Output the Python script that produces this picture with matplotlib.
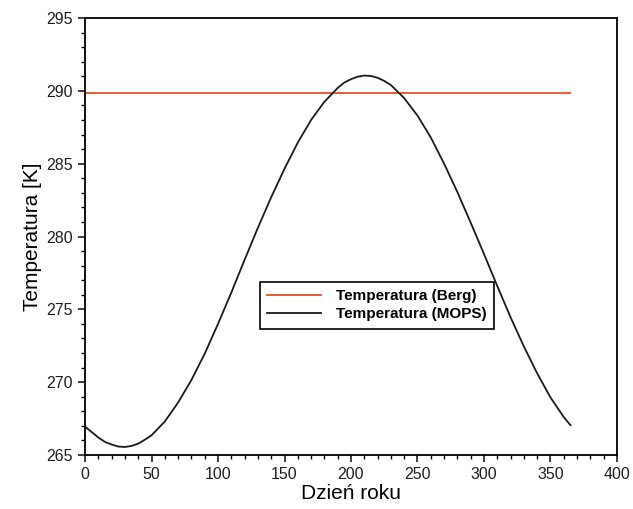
import matplotlib
matplotlib.use('Agg')
import matplotlib.pyplot as plt
from matplotlib.ticker import MultipleLocator

# values
days = [0, 10, 15, 20, 25, 30, 35, 40, 45, 50, 60, 70, 80, 90, 100, 110, 120,
        130, 140, 150, 160, 170, 180, 190, 195, 200, 205, 210, 215, 220, 225,
        230, 240, 250, 260, 270, 280, 290, 300, 310, 320, 330, 340, 350, 360, 365]
temp_mops = [266.95, 266.2, 265.9, 265.72, 265.58, 265.55, 265.62, 265.78, 266.05,
             266.35, 267.3, 268.6, 270.15, 271.95, 274.0, 276.15, 278.4, 280.6,
             282.7, 284.65, 286.45, 288.0, 289.25, 290.2, 290.57, 290.8, 290.97,
             291.05, 291.02, 290.9, 290.68, 290.4, 289.5, 288.3, 286.8, 285.0,
             283.05, 280.95, 278.8, 276.6, 274.45, 272.45, 270.6, 268.95, 267.6,
             267.05]
berg_days = [0, 365]
temp_berg = [289.85, 289.85]

plt.rcParams['font.family'] = ['Liberation Sans', 'DejaVu Sans']

fig = plt.figure(figsize=(6.33, 5.09), dpi=100)
ax = fig.add_axes([0.1343, 0.1061, 0.8404, 0.8585])

ax.plot(berg_days, temp_berg, color='#ea5a2e', lw=1.4, label='Temperatura (Berg)')
ax.plot(days, temp_mops, color='#1a1a1a', lw=1.3, label='Temperatura (MOPS)')

ax.set_xlim(0, 400)
ax.set_ylim(265, 295)
ax.xaxis.set_major_locator(MultipleLocator(50))
ax.xaxis.set_minor_locator(MultipleLocator(10))
ax.yaxis.set_major_locator(MultipleLocator(5))
ax.yaxis.set_minor_locator(MultipleLocator(1))
ax.tick_params(which='major', direction='out', length=5, width=1.2, labelsize=11.5,
               colors='#1e1e1e', pad=4)
ax.tick_params(which='minor', direction='out', length=3, width=1.0)
for s in ax.spines.values():
    s.set_linewidth(1.3)

ax.set_xlabel('Dzień roku', fontsize=15, labelpad=1)
ax.set_ylabel('Temperatura [K]', fontsize=15, labelpad=3)

leg = ax.legend(loc='upper left', bbox_to_anchor=(0.314, 0.414), fancybox=False,
                edgecolor='black', framealpha=1, handlelength=3.5,
                prop={'weight': 'bold', 'size': 11}, borderpad=0.5,
                labelspacing=0.25, handletextpad=1.0)
leg.get_frame().set_linewidth(1.2)

fig.savefig('out.png', dpi=100)
